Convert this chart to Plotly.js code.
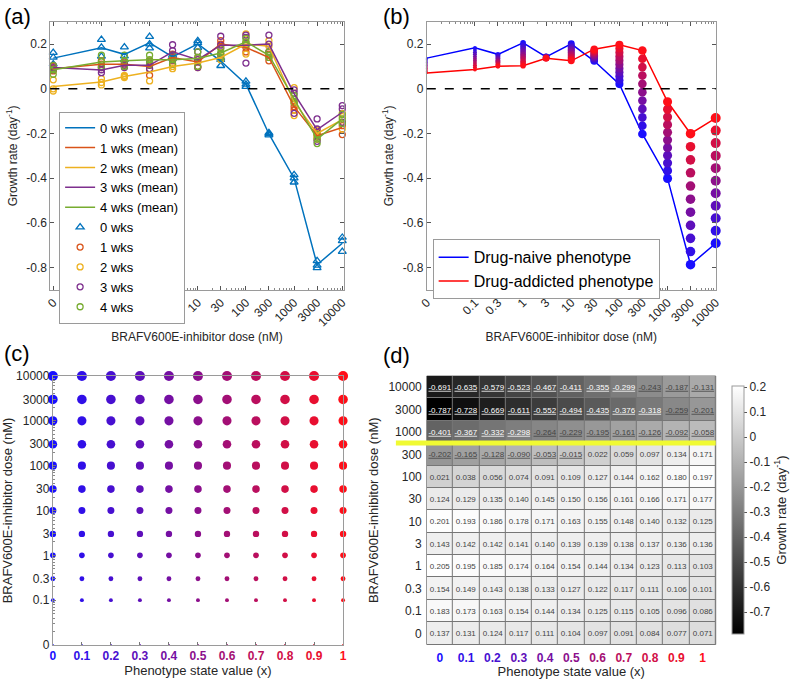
<!DOCTYPE html>
<html><head><meta charset="utf-8">
<script src="https://cdn.plot.ly/plotly-3.0.1.min.js"></script>
<style>html,body{margin:0;padding:0;background:#fff}#chart{width:800px;height:680px}</style>
</head><body><div id="chart"></div>
<script>
// ---------- data ----------
const doses = [0, 0.1, 0.3, 1, 3, 10, 30, 100, 300, 1000, 3000, 10000];
const doseLabels = ['0','0.1','0.3','1','3','10','30','100','300','1000','3000','10000'];
const phenotypeX = [0, 0.1, 0.2, 0.3, 0.4, 0.5, 0.6, 0.7, 0.8, 0.9, 1];
const phenotypeLabels = ['0','0.1','0.2','0.3','0.4','0.5','0.6','0.7','0.8','0.9','1'];
const growthTicks = [-0.8, -0.6, -0.4, -0.2, 0, 0.2];
const growthTickLabels = ['-0.8','-0.6','-0.4','-0.2','0','0.2'];
const cbTicks = [0.2, 0.1, 0, -0.1, -0.2, -0.3, -0.4, -0.5, -0.6, -0.7];
const cbTickLabels = ['0.2','0.1','0','-0.1','-0.2','-0.3','-0.4','-0.5','-0.6','-0.7'];

// panel (a): mean growth rates per week group
const weekNames = ['0 wks','1 wks','2 wks','3 wks','4 wks'];
const mean0wks = [0.137, 0.183, 0.154, 0.205, 0.143, 0.201, 0.124, 0.021, -0.202, -0.401, -0.787, -0.691];
const mean1wks = [0.090, 0.110, 0.110, 0.100, 0.140, 0.120, 0.200, 0.185, 0.140, -0.080, -0.210, -0.173];
const mean2wks = [0.010, 0.030, 0.055, 0.075, 0.100, 0.115, 0.140, 0.200, 0.190, -0.058, -0.200, -0.138];
const mean3wks = [0.095, 0.084, 0.105, 0.105, 0.165, 0.130, 0.195, 0.195, 0.200, -0.022, -0.183, -0.105];
const mean4wks = [0.085, 0.120, 0.125, 0.130, 0.130, 0.135, 0.160, 0.210, 0.150, -0.045, -0.225, -0.135];

// panel (a): replicates per dose
const rep0wks = [[0.162,0.140,0.110],[0.220,0.185,0.145],[0.186,0.146,0.130],[0.233,0.200,0.182],[0.150,0.143,0.136],[0.214,0.205,0.184],[0.103,0.130,0.139],[0.033,0.020,0.010],[-0.197,-0.202,-0.207],[-0.385,-0.400,-0.418],[-0.770,-0.790,-0.801],[-0.665,-0.680,-0.728]];
const rep1wks = [[0.100,0.090,0.080],[0.125,0.110,0.095],[0.120,0.110,0.100],[0.060,0.115,0.125],[0.155,0.140,0.125],[0.140,0.120,0.100],[0.215,0.200,0.185],[0.205,0.185,0.165],[0.155,0.140,0.125],[-0.065,-0.080,-0.095],[-0.195,-0.210,-0.225],[-0.150,-0.165,-0.205]];
const rep2wks = [[0.040,0.000,-0.010],[0.045,0.028,0.017],[0.060,0.055,0.050],[0.035,0.085,0.105],[0.110,0.100,0.090],[0.130,0.120,0.095],[0.150,0.140,0.130],[0.245,0.200,0.155],[0.215,0.190,0.165],[0.005,-0.060,-0.120],[-0.185,-0.200,-0.215],[-0.110,-0.125,-0.180]];
const rep3wks = [[0.105,0.095,0.085],[0.095,0.085,0.072],[0.115,0.105,0.095],[0.090,0.105,0.120],[0.197,0.170,0.128],[0.165,0.130,0.095],[0.235,0.195,0.155],[0.240,0.230,0.115],[0.240,0.200,0.165],[-0.005,-0.020,-0.110],[-0.135,-0.180,-0.235],[-0.075,-0.090,-0.150]];
const rep4wks = [[0.105,0.085,0.065],[0.150,0.120,0.100],[0.150,0.125,0.100],[0.150,0.130,0.110],[0.150,0.130,0.110],[0.165,0.140,0.100],[0.180,0.160,0.140],[0.225,0.210,0.195],[0.165,0.150,0.140],[-0.030,-0.045,-0.060],[-0.205,-0.225,-0.245],[-0.115,-0.135,-0.155]];

// panel (d)/(b)/(c): model growth rate, rows = doses (0 .. 10000), cols = phenotype x (0 .. 1)
const growth = [
  [0.137,0.131,0.124,0.117,0.111,0.104,0.097,0.091,0.084,0.077,0.071],
  [0.183,0.173,0.163,0.154,0.144,0.134,0.125,0.115,0.105,0.096,0.086],
  [0.154,0.149,0.143,0.138,0.133,0.127,0.122,0.117,0.111,0.106,0.101],
  [0.205,0.195,0.185,0.174,0.164,0.154,0.144,0.134,0.123,0.113,0.103],
  [0.143,0.142,0.142,0.141,0.140,0.139,0.139,0.138,0.137,0.136,0.136],
  [0.201,0.193,0.186,0.178,0.171,0.163,0.155,0.148,0.140,0.132,0.125],
  [0.124,0.129,0.135,0.140,0.145,0.150,0.156,0.161,0.166,0.171,0.177],
  [0.021,0.038,0.056,0.074,0.091,0.109,0.127,0.144,0.162,0.180,0.197],
  [-0.202,-0.165,-0.128,-0.090,-0.053,-0.015,0.022,0.059,0.097,0.134,0.171],
  [-0.401,-0.367,-0.332,-0.298,-0.264,-0.229,-0.195,-0.161,-0.126,-0.092,-0.058],
  [-0.787,-0.728,-0.669,-0.611,-0.552,-0.494,-0.435,-0.376,-0.318,-0.259,-0.201],
  [-0.691,-0.635,-0.579,-0.523,-0.467,-0.411,-0.355,-0.299,-0.243,-0.187,-0.131]
];

// ---------- styling helpers ----------
const FONT = 'Liberation Sans, Arial, Helvetica, sans-serif';
const TXT = '#262626';
const AX = '#9a9a9a';
const wkColors = ['#0072BD','#D95319','#EDB120','#7E2F8E','#77AC30'];
const dosePos = doses.map(d => d === 0 ? 0.01 : d);   // "0" shown one decade below 0.1
function phenColor(x){ return 'rgb(' + Math.round(25 + 230*x) + ',15,' + Math.round(255 - 230*x) + ')'; }
function dotSize(i){ return 2 + 8*Math.pow(i/(doses.length-1), 0.6); }
const phenTickText = phenotypeX.map((x,j) => '<b><span style="color:' + phenColor(x) + '">' + phenotypeLabels[j] + '</span></b>');

const traces = [];
// ---- panel (a)
const reps = [rep0wks, rep1wks, rep2wks, rep3wks, rep4wks];
const means = [mean0wks, mean1wks, mean2wks, mean3wks, mean4wks];
reps.forEach((r,k) => {
  const xs = [], ys = [];
  r.forEach((vals,i) => vals.forEach(v => { xs.push(dosePos[i]); ys.push(v); }));
  traces.push({type:'scatter', mode:'markers', x:xs, y:ys, xaxis:'x', yaxis:'y',
    name: weekNames[k], legend:'legend', legendrank: 6+k, cliponaxis:false,
    marker:{symbol: k===0 ? 'triangle-up-open' : 'circle-open', size: k===0 ? 7 : 6, opacity:1,
            color: wkColors[k], line:{width:1.3, color: wkColors[k]}}});
});
means.forEach((m,k) => {
  traces.push({type:'scatter', mode:'lines', x:dosePos, y:m, xaxis:'x', yaxis:'y',
    name: weekNames[k] + ' (mean)', legend:'legend', legendrank: 1+k,
    line:{color: wkColors[k], width:1.5}});
});

// ---- panel (b)
const naive = growth.map(r => r[0]);
const addicted = growth.map(r => r[r.length-1]);
traces.push({type:'scatter', mode:'lines', x:dosePos, y:naive, xaxis:'x2', yaxis:'y2',
  name:'Drug-naive phenotype', legend:'legend2', line:{color:'rgb(0,0,255)', width:1.5}});
traces.push({type:'scatter', mode:'lines', x:dosePos, y:addicted, xaxis:'x2', yaxis:'y2',
  name:'Drug-addicted phenotype', legend:'legend2', line:{color:'rgb(255,0,0)', width:1.5}});
{
  const xs=[], ys=[], cs=[], ss=[];
  doses.forEach((d,i) => phenotypeX.forEach((x,j) => {
    xs.push(dosePos[i]); ys.push(growth[i][j]); cs.push(phenColor(x)); ss.push(dotSize(i));
  }));
  traces.push({type:'scatter', mode:'markers', x:xs, y:ys, xaxis:'x2', yaxis:'y2', showlegend:false,
    cliponaxis:false, marker:{color:cs, size:ss, opacity:1, line:{width:0}}});
}

// ---- panel (c)
{
  const xs=[], ys=[], cs=[], ss=[];
  doses.forEach((d,i) => phenotypeX.forEach((x,j) => {
    xs.push(x); ys.push(dosePos[i]); cs.push(phenColor(x)); ss.push(dotSize(i));
  }));
  traces.push({type:'scatter', mode:'markers', x:xs, y:ys, xaxis:'x3', yaxis:'y3', showlegend:false,
    cliponaxis:false, marker:{color:cs, size:ss, opacity:1, line:{width:0}}});
}

// ---- panel (d)
const cellText = growth.map(r => r.map(v => v < 0 ? '<u>' + v.toFixed(3) + '</u>' : v.toFixed(3)));
traces.push({type:'heatmap', x:phenotypeLabels, y:doseLabels, z:growth, xaxis:'x4', yaxis:'y4',
  text:cellText, texttemplate:'%{text}', textfont:{size:8, family:FONT},
  colorscale:[[0,'#000000'],[1,'#ffffff']], xgap:1, ygap:1, showscale:true, hoverinfo:'skip',
  colorbar:{x:741.7/800, xanchor:'left', thickness:12, len:268/680, lenmode:'fraction',
    y:1-644/680, yanchor:'bottom', outlinecolor:AX, outlinewidth:1,
    tickmode:'array', tickvals:cbTicks, ticktext:cbTickLabels, ticks:'outside', ticklen:3, tickcolor:'#555',
    tickfont:{size:12, color:TXT, family:FONT},
    title:{text:'Growth rate (day<sup>-1</sup>)', side:'right', font:{size:13, color:TXT, family:FONT}}}});

// ---------- layout ----------
const minorLog = {ticks:'inside', ticklen:2, tickcolor:'#888', dtick:'D1'};
function doseAxisX(domain, range, anchor){
  return {domain, anchor, type:'log', range, tickmode:'array', tickvals:dosePos, ticktext:doseLabels,
    tickangle:-45, ticks:'inside', ticklen:4, tickcolor:'#555', showline:true, linecolor:AX, linewidth:1,
    mirror:'ticks', showgrid:false, zeroline:false, tickfont:{size:12, color:TXT},
    minor: minorLog,
    title:{text:'BRAFV600E-inhibitor dose (nM)', font:{size:12, color:TXT}, standoff:4}};
}
function growthAxisY(domain, anchor){
  return {domain, anchor, range:[-0.9,0.3], tickmode:'array', tickvals:growthTicks, ticktext:growthTickLabels,
    ticks:'inside', ticklen:4, tickcolor:'#555', showline:true, linecolor:AX, linewidth:1, mirror:'ticks',
    showgrid:false, zeroline:false, tickfont:{size:12, color:TXT},
    title:{text:'Growth rate (day<sup>-1</sup>)', font:{size:12, color:TXT}, standoff:6}};
}
const topDom = [1-290/680, 1-21.7/680];
const botDom = [1-644.5/680, 1-376/680];

const layout = {
  width:800, height:680, margin:{l:0,r:0,t:0,b:0}, paper_bgcolor:'#fff', plot_bgcolor:'#fff',
  font:{family:FONT, color:TXT}, hovermode:false,
  xaxis: doseAxisX([51.7/800, 353/800], [-2.06, 4.03], 'y'),
  yaxis: growthAxisY(topDom, 'x'),
  xaxis2: doseAxisX([438.3/800, 735/800], [-2, 4], 'y2'),
  yaxis2: growthAxisY(topDom, 'x2'),
  xaxis3: {domain:[54.3/800, 352.3/800], anchor:'y3', range:[0,1], tickmode:'array', tickvals:phenotypeX,
    ticktext:phenTickText, ticks:'inside', ticklen:3, tickcolor:'#777', showline:true, linecolor:AX, mirror:true,
    showgrid:false, zeroline:false, tickfont:{size:12},
    title:{text:'Phenotype state value (x)', font:{size:13, color:TXT}, standoff:2}},
  yaxis3: {domain:[1-645/680, 1-376/680], anchor:'x3', type:'log', range:[-2,4], tickmode:'array',
    tickvals:dosePos, ticktext:doseLabels, ticks:'inside', ticklen:3, tickcolor:'#777', showline:true,
    linecolor:AX, mirror:true, showgrid:false, zeroline:false, tickfont:{size:12, color:TXT},
    minor: minorLog,
    title:{text:'BRAFV600E-inhibitor dose (nM)', font:{size:13, color:TXT}, standoff:4}},
  xaxis4: {domain:[438.3/800, 735/800], anchor:'y4', type:'category', tickmode:'array', tickvals:phenotypeLabels,
    ticktext:phenTickText, ticks:'', showline:false, showgrid:false, zeroline:false, tickfont:{size:12},
    ticklabelstandoff:4,
    title:{text:'Phenotype state value (x)', font:{size:13, color:TXT}, standoff:2}},
  yaxis4: {domain:botDom, anchor:'x4', type:'category', ticks:'', showline:false, showgrid:false,
    zeroline:false, tickfont:{size:12, color:TXT}, ticklabelstandoff:4,
    title:{text:'BRAFV600E-inhibitor dose (nM)', font:{size:13, color:TXT}, standoff:6}},
  legend: {x:60.7/800, y:1-111.7/680, xanchor:'left', yanchor:'top', bgcolor:'#fff', bordercolor:AX,
    borderwidth:1, font:{size:13, color:'#000'}, tracegroupgap:0, traceorder:'normal'},
  legend2: {x:444.3/800, y:1-239.3/680, xanchor:'left', yanchor:'top', bgcolor:'#fff', bordercolor:AX,
    borderwidth:1, font:{size:16, color:'#000'}},
  shapes: [
    {type:'line', xref:'x domain', yref:'y', x0:0, x1:1, y0:0, y1:0, line:{color:'#000', width:1.5, dash:'dash'}},
    {type:'line', xref:'x2 domain', yref:'y2', x0:0, x1:1, y0:0, y1:0, line:{color:'#000', width:1.5, dash:'dash'}},
    {type:'rect', xref:'x4 domain', yref:'y4 domain', x0:0, x1:1, y0:0, y1:1, layer:'below',
      fillcolor:'#767676', line:{width:1, color:'#767676'}},
    {type:'line', xref:'x4 domain', yref:'y4', x0:-0.107, x1:1,
      y0: doseLabels.indexOf('300') + 0.5, y1: doseLabels.indexOf('300') + 0.5,
      line:{color:'#f0fa32', width:5}}
  ],
  annotations: [
    {text:'(a)', xref:'paper', yref:'paper', x:0.002, y:1-16/680, xanchor:'left', yanchor:'middle', showarrow:false, font:{size:22, color:'#000'}},
    {text:'(b)', xref:'paper', yref:'paper', x:391/800, y:1-16/680, xanchor:'left', yanchor:'middle', showarrow:false, font:{size:22, color:'#000'}},
    {text:'(c)', xref:'paper', yref:'paper', x:0.002, y:1-353/680, xanchor:'left', yanchor:'middle', showarrow:false, font:{size:22, color:'#000'}},
    {text:'(d)', xref:'paper', yref:'paper', x:391/800, y:1-355/680, xanchor:'left', yanchor:'middle', showarrow:false, font:{size:22, color:'#000'}}
  ]
};

Plotly.newPlot('chart', traces, layout, {staticPlot:true, displayModeBar:false});
</script></body></html>
